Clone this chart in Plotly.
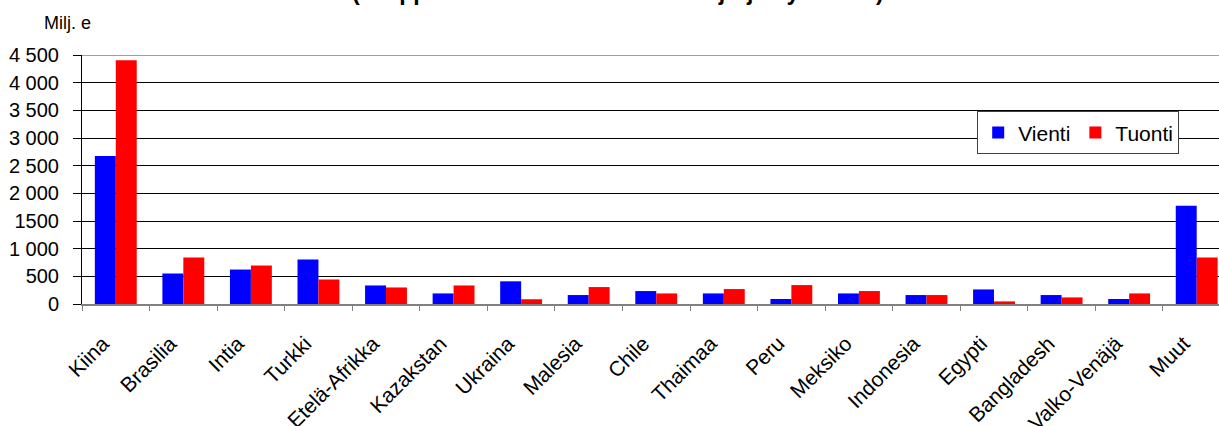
import plotly.graph_objects as go

categories = ["Kiina", "Brasilia", "Intia", "Turkki", "Etelä-Afrikka", "Kazakstan",
              "Ukraina", "Malesia", "Chile", "Thaimaa", "Peru", "Meksiko",
              "Indonesia", "Egypti", "Bangladesh", "Valko-Venäjä", "Muut"]
vienti = [2675, 551, 623, 803, 335, 191, 410, 162, 234, 191, 90, 191, 162, 263, 162, 90, 1775]
tuonti = [4403, 839, 695, 443, 299, 335, 86, 306, 191, 270, 342, 234, 162, 47, 119, 191, 839]
ytick_vals = [0, 500, 1000, 1500, 2000, 2500, 3000, 3500, 4000, 4500]
ytick_text = ["0", "500", "1 000", "1500", "2 000", "2 500", "3 000", "3 500", "4 000", "4 500"]

FONT = "Liberation Sans, Arial, sans-serif"

fig = go.Figure()
fig.add_trace(go.Bar(x=categories, y=vienti, name="Vienti",
                     marker=dict(color="#0000FF", line=dict(width=0))))
fig.add_trace(go.Bar(x=categories, y=tuonti, name="Tuonti",
                     marker=dict(color="#FF0000", line=dict(width=0))))

fig.update_layout(
    width=1219, height=426,
    margin=dict(l=82, r=0, t=55, b=122, autoexpand=False),
    paper_bgcolor="white", plot_bgcolor="white",
    barmode="group", bargap=0.38, bargroupgap=0,
    font=dict(family=FONT, size=18, color="black"),
    showlegend=True,
    legend=dict(orientation="h", x=0.965, y=0.774, xanchor="right", yanchor="top",
                bgcolor="white", bordercolor="#404040", borderwidth=1,
                font=dict(size=21), itemwidth=30, tracegroupgap=0),
)
fig.update_xaxes(
    range=[-0.5, 16.33], tickangle=-45, tickson="boundaries",
    ticks="outside", ticklen=5, tickcolor="#808080",
    showline=True, linecolor="#808080", linewidth=2,
    showgrid=False, tickfont=dict(size=21),
    ticklabelstandoff=17, ticklabelshift=-13, automargin=False,
)
fig.update_yaxes(
    range=[0, 4500], tickvals=ytick_vals, ticktext=ytick_text,
    ticks="outside", ticklen=8, tickcolor="black",
    showline=True, linecolor="black", linewidth=1,
    showgrid=True, gridcolor="black", gridwidth=1,
    zeroline=False, tickfont=dict(size=20), ticklabelstandoff=10,
    automargin=False,
)
fig.add_shape(type="line", xref="paper", yref="y", x0=0, x1=1, y0=4500, y1=4500,
              line=dict(color="#A0A0A0", width=2))
fig.add_annotation(text="Milj. e", xref="paper", yref="paper", x=-0.035, y=1.13,
                   xanchor="left", yanchor="middle", showarrow=False,
                   font=dict(size=18))
fig.add_annotation(text="<b>(kauppavaihdon mukaan suuruusjärjestyksessä)</b>", xref="paper",
                   yref="paper", x=0.471, y=1.194, xanchor="center", yanchor="bottom",
                   showarrow=False, font=dict(size=23))

fig.write_html("out.html", config={"displayModeBar": False},
               post_script="document.body.style.margin='0';")
